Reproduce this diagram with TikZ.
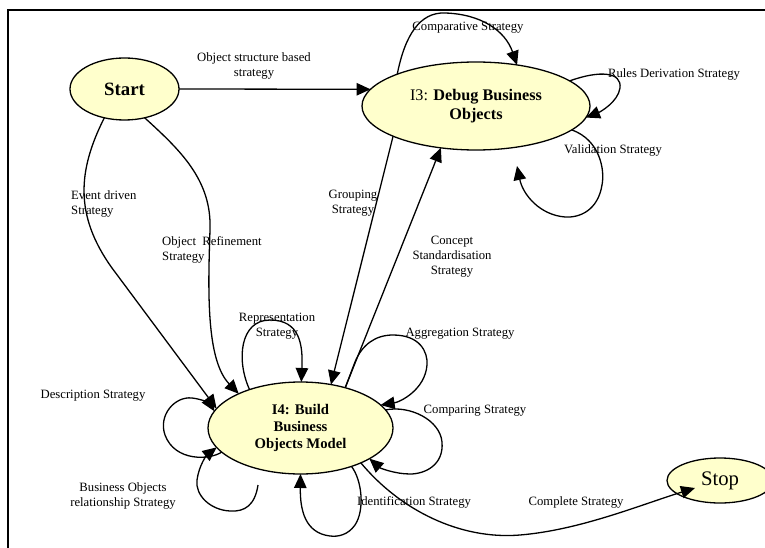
\documentclass[tikz,border=0pt]{standalone}
\usepackage{fontspec}
\setmainfont{Liberation Serif}
\usetikzlibrary{arrows.meta,shapes.geometric}
\definecolor{statefill}{RGB}{255,255,204}
\begin{document}
\begin{tikzpicture}[x=1pt,y=-1pt,
  state/.style={ellipse,draw,line width=1.3pt,fill=statefill,inner sep=0pt,outer sep=0pt,align=center},
  trans/.style={line width=1.3pt,-{Triangle[length=14pt,width=12.5pt]}},
  lbl/.style={font=\fontsize{12.7}{15}\selectfont,inner sep=0pt,align=center}]
\useasboundingbox (0,0) rectangle (765,548);
\clip (0,0) rectangle (765,548);
\draw[line width=2.2pt] (8,10) rectangle (800,600);

% states
\node[state,minimum width=109pt,minimum height=62pt,font=\fontsize{18.8}{22}\selectfont\bfseries] (start) at (124.5,89) {Start};
\node[state,minimum width=228pt,minimum height=88pt,font=\fontsize{16.2}{19}\selectfont] (i3) at (476,106) {I3: \textbf{Debug Business}\\\textbf{Objects}};
\node[state,minimum width=185pt,minimum height=92pt,font=\fontsize{14.7}{17}\selectfont\bfseries] (i4) at (300.5,428) {I4: Build\\Business\\Objects Model};
\node[state,minimum width=106pt,minimum height=45pt,font=\fontsize{20.7}{24}\selectfont] (stop) at (720,480.5) {Stop};

% free ends
\coordinate (valend) at (517,166);
\coordinate (busstart) at (258,485);
\coordinate (stopin) at (695,488);

% transitions between states
\draw[trans] (start.east) -- (i3.171);
\draw[trans] (start.235) .. controls (78,170) and (74,215) .. (112,268) -- (i4.167);
\draw[trans] (start.305) .. controls (180,150) and (212,180) .. (210,230)
  .. controls (208,290) and (206,360) .. (i4.151);
\draw[trans] (i3.200) -- (i4.55);
\draw[trans] (i4.42) -- (i3.230);
\draw[trans] (i4.330) .. controls (400,510) and (460,540) .. (520,535)
  .. controls (580,530) and (640,505) .. (stopin);

% loops on I3
\draw[trans] (i3.158) .. controls (405,35) and (420,12) .. (445,13)
  .. controls (480,14) and (505,30) .. (i3.45);
\draw[trans] (i3.15) .. controls (600,70) and (622,72) .. (620,88)
  .. controls (618,102) and (600,112) .. (i3.354);
\draw[trans] (i3.346) .. controls (600,140) and (605,170) .. (602,185)
  .. controls (598,210) and (580,218) .. (565,217)
  .. controls (540,215) and (523,195) .. (valend);

% loops on I4
\draw[trans] (i4.143) .. controls (236,360) and (240,320) .. (270,320)
  .. controls (300,320) and (303,345) .. (i4.89);
\draw[trans] (i4.42) -- (355,362) .. controls (362,345) and (375,335) .. (393,335)
  .. controls (420,335) and (428,352) .. (427,365)
  .. controls (425,390) and (400,402) .. (i4.16);
\draw[trans] (i4.12) .. controls (410,405) and (440,420) .. (442,442)
  .. controls (444,465) and (425,474) .. (410,474)
  .. controls (395,474) and (380,468) .. (i4.336);
\draw[trans] (i4.323) .. controls (362,480) and (365,510) .. (355,525)
  .. controls (348,535) and (338,537) .. (330,536)
  .. controls (305,533) and (300,510) .. (i4.270);
\draw[trans] (i4.197) .. controls (210,460) and (175,462) .. (165,435)
  .. controls (158,415) and (175,396) .. (192,398)
  .. controls (202,399) and (210,404) .. (i4.169);
\draw[trans] (busstart) .. controls (255,505) and (245,512) .. (230,511)
  .. controls (210,510) and (195,495) .. (197,480)
  .. controls (199,465) and (207,455) .. (i4.193);

% labels
\node[lbl] (lobj) at (254,65.5) {Object structure based\\strategy};
\node[lbl,anchor=west,align=left] (levt) at (71,204) {Event driven\\Strategy};
\node[lbl,anchor=west,align=left] (lref) at (162,249.5) {Object\ \ Refinement\\Strategy};
\node[lbl] (lgrp) at (353,203.5) {Grouping\\Strategy};
\node[lbl] (lcon) at (452,257) {Concept\\Standardisation\\Strategy};
\node[lbl] (lcmpv) at (468,28) {Comparative Strategy};
\node[lbl] (lrul) at (674,74) {Rules Derivation Strategy};
\node[lbl] (lval) at (613,150) {Validation Strategy};
\node[lbl] (lrep) at (277,326) {Representation\\Strategy};
\node[lbl] (lagg) at (460,334) {Aggregation Strategy};
\node[lbl] (lcmp) at (475,411) {Comparing Strategy};
\node[lbl] (ldes) at (93,396) {Description Strategy};
\node[lbl] (lbus) at (123,495.5) {Business Objects\\relationship Strategy};
\node[lbl] (lidn) at (414,502) {Identification Strategy};
\node[lbl] (lcpl) at (576,502) {Complete Strategy};
\end{tikzpicture}
\end{document}
